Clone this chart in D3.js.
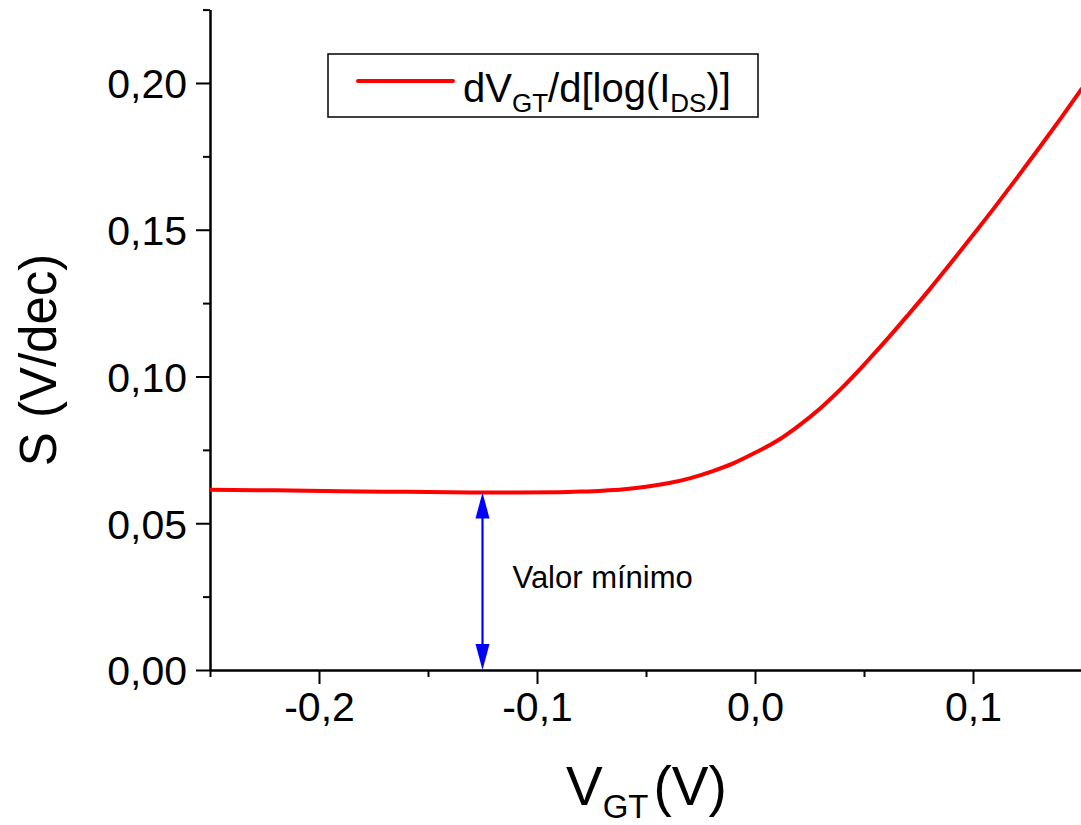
<!DOCTYPE html>
<html>
<head>
<meta charset="utf-8">
<script src="https://cdn.jsdelivr.net/npm/d3@7"></script>
<style>
  html, body { margin: 0; padding: 0; background: #fff; }
  svg { display: block; }
  text { font-family: "Liberation Sans", Arial, sans-serif; fill: #000; }
</style>
</head>
<body>
<svg id="chart" width="1081" height="825"></svg>
<script>
// Subthreshold swing S = dV_GT / d[log(I_DS)] versus gate overdrive V_GT
const vgt = [-0.25, -0.22, -0.19, -0.16, -0.13, -0.11, -0.09, -0.08, -0.07, -0.06,
             -0.05, -0.04, -0.03, -0.02, -0.01, 0.00, 0.01, 0.02, 0.03, 0.04,
             0.05, 0.06, 0.07, 0.08, 0.09, 0.10, 0.11, 0.12, 0.13, 0.14, 0.15];
const swing = [0.0614, 0.0612, 0.0609, 0.0607, 0.0605, 0.0605, 0.0606, 0.0608, 0.0611, 0.0616,
               0.0624, 0.0636, 0.0653, 0.0676, 0.0704, 0.0740, 0.0780, 0.0832, 0.0892, 0.0962,
               0.1040, 0.1122, 0.1208, 0.1296, 0.1388, 0.1482, 0.1577, 0.1675, 0.1775, 0.1877, 0.1982];

const xMajorTicks = [-0.2, -0.1, 0.0, 0.1];
const xMinorTicks = [-0.25, -0.15, -0.05, 0.05, 0.15];
const yMajorTicks = [0.00, 0.05, 0.10, 0.15, 0.20];
const yMinorTicks = [0.025, 0.075, 0.125, 0.175, 0.225];

// Minimum-swing marker: position on V_GT and the minimum value it points to
const minMarkerVgt = [-0.125];
const minMarkerValue = [0.0605];
const minMarkerLabel = ["Valor mínimo"];

const svg = d3.select("#chart");

const x = d3.scaleLinear().domain([-0.25, 0.15]).range([210, 1082]);
const y = d3.scaleLinear().domain([0, 0.225]).range([670, 9.6]);

const comma = (digits) => d => d.toFixed(digits).replace(".", ",");

// Minor ticks first, so the major axis sits on top
svg.append("g")
  .attr("transform", `translate(0,${y(0)})`)
  .call(d3.axisBottom(x).tickValues(xMinorTicks).tickSize(7).tickSizeOuter(0).tickFormat(""))
  .call(g => g.select(".domain").remove())
  .call(g => g.selectAll("line").attr("stroke-width", 2));

svg.append("g")
  .attr("transform", `translate(${x(-0.25)},0)`)
  .call(d3.axisLeft(y).tickValues(yMinorTicks).tickSize(7).tickSizeOuter(0).tickFormat(""))
  .call(g => g.select(".domain").remove())
  .call(g => g.selectAll("line").attr("stroke-width", 2));

const xAxis = svg.append("g")
  .attr("transform", `translate(0,${y(0)})`)
  .call(d3.axisBottom(x).tickValues(xMajorTicks).tickSize(14).tickSizeOuter(0)
        .tickPadding(8).tickFormat(comma(1)));

const yAxis = svg.append("g")
  .attr("transform", `translate(${x(-0.25)},0)`)
  .call(d3.axisLeft(y).tickValues(yMajorTicks).tickSize(14).tickSizeOuter(0)
        .tickPadding(9).tickFormat(comma(2)));

[xAxis, yAxis].forEach(g => {
  g.select(".domain").attr("stroke-width", 2.5);
  g.selectAll(".tick line").attr("stroke-width", 2);
  g.selectAll(".tick text")
    .attr("font-family", "'Liberation Sans', Arial, sans-serif")
    .attr("font-size", 41)
    .attr("fill", "#000");
});
yAxis.selectAll(".tick text").attr("dy", "0.36em");

// Swing curve
svg.append("clipPath").attr("id", "plot-clip")
  .append("rect")
  .attr("x", x(-0.25)).attr("y", y(0.225))
  .attr("width", x(0.15) - x(-0.25)).attr("height", y(0) - y(0.225));

const line = d3.line()
  .x((d, i) => x(vgt[i]))
  .y(d => y(d))
  .curve(d3.curveMonotoneX);

svg.append("path")
  .datum(swing)
  .attr("clip-path", "url(#plot-clip)")
  .attr("fill", "none")
  .attr("stroke", "#ff0000")
  .attr("stroke-width", 4)
  .attr("stroke-linejoin", "round")
  .attr("d", line);

// Double-headed arrow from the axis up to the minimum
const ax = x(minMarkerVgt[0]);
const aTop = y(minMarkerValue[0]);
const aBot = y(0);
const headLen = 26, headHalf = 7;
const arrow = svg.append("g").attr("fill", "#0000ff").attr("stroke", "#0000ff");
arrow.append("line")
  .attr("x1", ax).attr("x2", ax)
  .attr("y1", aTop + headLen - 2).attr("y2", aBot - headLen + 2)
  .attr("stroke-width", 2.2);
arrow.append("path")
  .attr("stroke", "none")
  .attr("d", `M${ax},${aTop} L${ax - headHalf},${aTop + headLen} L${ax + headHalf},${aTop + headLen} Z`);
arrow.append("path")
  .attr("stroke", "none")
  .attr("d", `M${ax},${aBot} L${ax - headHalf},${aBot - headLen} L${ax + headHalf},${aBot - headLen} Z`);

svg.append("text")
  .attr("x", ax + 30)
  .attr("y", y(0.028))
  .attr("font-size", 31)
  .text(minMarkerLabel[0]);

// Legend
const legend = svg.append("g");
legend.append("rect")
  .attr("x", 328).attr("y", 54).attr("width", 430).attr("height", 63)
  .attr("fill", "#fff").attr("stroke", "#000").attr("stroke-width", 1.5);
legend.append("line")
  .attr("x1", 358).attr("x2", 453).attr("y1", 81).attr("y2", 81)
  .attr("stroke", "#ff0000").attr("stroke-width", 4).attr("stroke-linecap", "round");
const lt = legend.append("text").attr("x", 463).attr("y", 102).attr("font-size", 40);
lt.append("tspan").text("dV");
lt.append("tspan").attr("font-size", 26).attr("dy", 10).text("GT");
lt.append("tspan").attr("dy", -10).text("/d[log(I");
lt.append("tspan").attr("font-size", 26).attr("dy", 10).text("DS");
lt.append("tspan").attr("dy", -10).text(")]");

// Axis titles
const xt = svg.append("text")
  .attr("x", 566).attr("y", 805).attr("font-size", 55);
xt.append("tspan").text("V");
xt.append("tspan").attr("font-size", 33).attr("dy", 13).text("GT");
xt.append("tspan").attr("dy", -13).attr("dx", 5).text("(V)");

svg.append("text")
  .attr("transform", `translate(56,360) rotate(-90)`)
  .attr("text-anchor", "middle")
  .attr("font-size", 51)
  .text("S (V/dec)");
</script>
</body>
</html>
